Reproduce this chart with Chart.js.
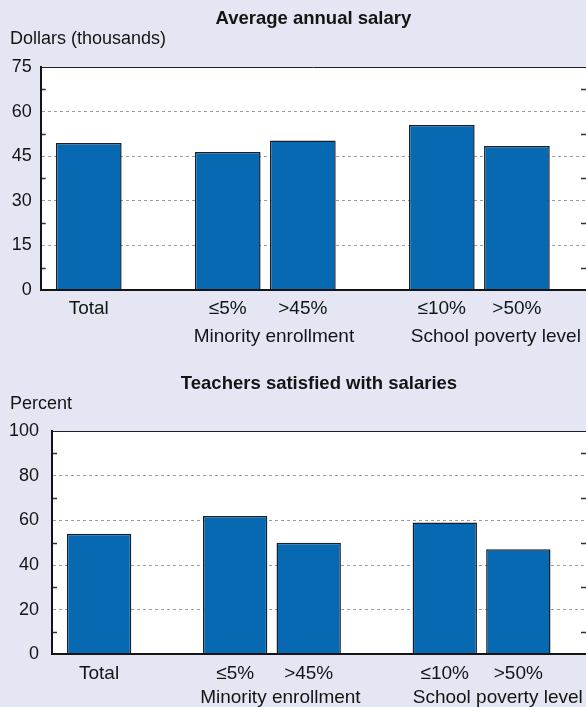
<!DOCTYPE html>
<html>
<head>
<meta charset="utf-8">
<title>Teacher salaries</title>
<script src="https://cdn.jsdelivr.net/npm/chart.js@4/dist/chart.umd.min.js"></script>
<style>
  html, body { margin: 0; padding: 0; background: #e4e7f3; }
  .panel { position: relative; width: 586px; }
  #salaryPanel { height: 355px; }
  #satisfiedPanel { height: 352px; }
</style>
</head>
<body>
<div class="panel" id="salaryPanel"><canvas id="salaryChart"></canvas></div>
<div class="panel" id="satisfiedPanel"><canvas id="satisfiedChart"></canvas></div>
<script>
// Categories and values
const barLabels = ['Total', '≤5%', '>45%', '≤10%', '>50%'];
const groupNames = ['Minority enrollment', 'School poverty level'];
const salaryThousands = [49.4, 46.4, 50.3, 55.5, 48.4];
const satisfiedPercent = [54, 62, 50, 59, 47];
const salaryTicks = [0, 15, 30, 45, 60, 75];
const percentTicks = [0, 20, 40, 60, 80, 100];

// Horizontal slot of each bar (wider gap between the three groups)
const barSlots = [0, 1.85, 2.85, 4.7, 5.7];
// Where the two group captions sit along the same slot axis
const groupSlots = [2.465, 5.42];
const SLOT_MIN = -0.64;
const SLOT_MAX = 6.62;

// Two-line category labels: bar name on the first line, group caption on the second
const categoryTicks = [
  ...barSlots.map((v, i) => ({ value: v, lines: [barLabels[i], ''] })),
  ...groupSlots.map((v, i) => ({ value: v, lines: ['', groupNames[i]] }))
].sort((a, b) => a.value - b.value);

const INK = '#141414';
const BAR_FILL = '#0869b3';
const BAR_EDGE = '#16202c';
const FONT_SIZE = 18;
const CAT_FONT_SIZE = 19;
const TITLE_FONT_SIZE = 18.5;
Chart.defaults.font.family = '"Liberation Sans", Arial, Helvetica, sans-serif';
Chart.defaults.color = INK;

// White plot area, thin top frame and short inward minor ticks on both edges
const plotFrame = {
  id: 'plotFrame',
  beforeDraw(chart) {
    const { ctx, chartArea: a } = chart;
    ctx.save();
    ctx.fillStyle = '#ffffff';
    ctx.fillRect(a.left, a.top, a.right - a.left, a.bottom - a.top);
    ctx.restore();
  },
  afterDatasetsDraw(chart) {
    const { ctx, chartArea: a, scales: { y } } = chart;
    ctx.save();
    ctx.strokeStyle = '#222';
    ctx.lineWidth = 1;
    ctx.beginPath();
    ctx.moveTo(a.left, Math.round(a.top) + 0.5);
    ctx.lineTo(a.right, Math.round(a.top) + 0.5);
    ctx.stroke();
    ctx.strokeStyle = '#333';
    ctx.lineWidth = 1.5;
    ctx.beginPath();
    const t = y.ticks;
    for (let i = 0; i < t.length - 1; i++) {
      const py = Math.round(y.getPixelForValue((t[i].value + t[i + 1].value) / 2)) + 0.5;
      ctx.moveTo(a.left, py); ctx.lineTo(a.left + 5, py);
      ctx.moveTo(a.right - 5, py); ctx.lineTo(a.right, py);
    }
    ctx.stroke();
    ctx.restore();
  }
};

function makeChart(canvasId, cfg) {
  const yTicks = cfg.yTicks;
  const yMax = yTicks[yTicks.length - 1];
  return new Chart(document.getElementById(canvasId), {
    type: 'bar',
    data: {
      datasets: [{
        data: barSlots.map((x, i) => ({ x, y: cfg.values[i] })),
        backgroundColor: BAR_FILL,
        borderColor: BAR_EDGE,
        borderWidth: 1.5,
        borderSkipped: 'start',
        barPercentage: 0.875,
        categoryPercentage: 1
      }]
    },
    plugins: [plotFrame],
    options: {
      responsive: true,
      maintainAspectRatio: false,
      animation: false,
      devicePixelRatio: 1,
      layout: { padding: { left: 10, right: 0, top: 0, bottom: 0 } },
      plugins: {
        legend: { display: false },
        tooltip: { enabled: false },
        title: {
          display: true,
          text: cfg.title,
          fullSize: false,
          font: { size: TITLE_FONT_SIZE, weight: 'bold', lineHeight: 1.1 },
          color: INK,
          padding: { top: cfg.titleTop, bottom: 0 }
        },
        subtitle: {
          display: true,
          text: cfg.unit,
          align: 'start',
          fullSize: true,
          font: { size: FONT_SIZE, lineHeight: 1.1 },
          color: INK,
          padding: { top: 0, bottom: cfg.unitGap }
        }
      },
      scales: {
        // value axis for the bars: carries the thick baseline only
        x: {
          type: 'linear',
          position: 'bottom',
          offset: false,
          min: SLOT_MIN,
          max: SLOT_MAX,
          afterBuildTicks: (axis) => { axis.ticks = barSlots.map(v => ({ value: v })); },
          afterFit: (axis) => { axis.height = 0; },
          ticks: { display: false, padding: 0 },
          grid: { display: false, drawTicks: false },
          border: { display: true, color: INK, width: 2, z: 1 }
        },
        // category names and group captions
        cats: {
          type: 'linear',
          position: 'bottom',
          offset: false,
          min: SLOT_MIN,
          max: SLOT_MAX,
          afterBuildTicks: (axis) => { axis.ticks = categoryTicks.map(t => ({ value: t.value })); },
          afterFit: (axis) => { axis.height = cfg.catHeight; },
          ticks: {
            autoSkip: false,
            maxRotation: 0,
            padding: cfg.labelPad,
            font: { size: CAT_FONT_SIZE, lineHeight: cfg.catLine },
            color: INK,
            callback: (v, i) => categoryTicks[i].lines
          },
          grid: { display: false, drawTicks: false },
          border: { display: false }
        },
        y: {
          type: 'linear',
          min: 0,
          max: yMax,
          afterBuildTicks: (axis) => { axis.ticks = yTicks.map(v => ({ value: v })); },
          afterFit: (axis) => { axis.width = cfg.yWidth; },
          ticks: {
            padding: cfg.yPad,
            font: { size: FONT_SIZE, lineHeight: 1.2 },
            color: INK
          },
          grid: {
            drawTicks: false,
            lineWidth: 1,
            color: (c) => (c.tick && (c.tick.value === 0 || c.tick.value === yMax)) ? 'rgba(0,0,0,0)' : '#9c9c9c'
          },
          border: { display: true, color: INK, width: 2, dash: [3, 3], z: 1 }
        }
      }
    }
  });
}

makeChart('salaryChart', {
  title: 'Average annual salary',
  unit: 'Dollars (thousands)',
  values: salaryThousands,
  yTicks: salaryTicks,
  titleTop: 8.8,
  unitGap: 18,
  labelPad: 4.25,
  catLine: 1.5,
  catHeight: 65,
  yPad: 9,
  yWidth: 30.7
});

makeChart('satisfiedChart', {
  title: 'Teachers satisfied with salaries',
  unit: 'Percent',
  values: satisfiedPercent,
  yTicks: percentTicks,
  titleTop: 18.9,
  unitGap: 17,
  labelPad: 7.2,
  catLine: 1.263,
  catHeight: 52.7,
  yPad: 13,
  yWidth: 42
});
</script>
</body>
</html>
